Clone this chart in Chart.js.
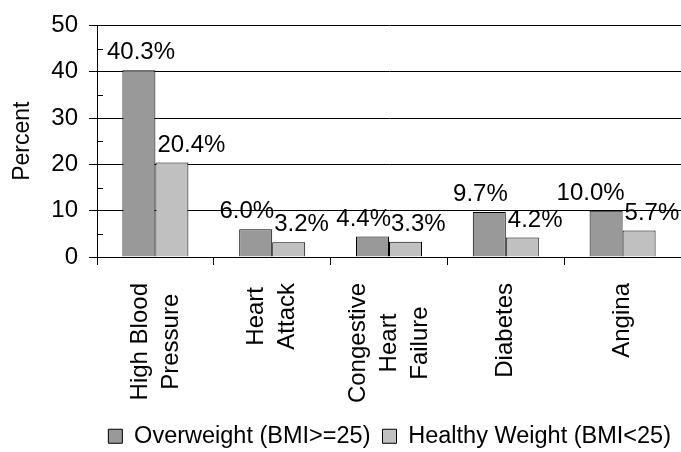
<!DOCTYPE html>
<html>
<head>
<meta charset="utf-8">
<script src="https://cdn.jsdelivr.net/npm/chart.js@4.4.0/dist/chart.umd.min.js"></script>
<style>
  html, body { margin: 0; padding: 0; background: #fff; }
</style>
</head>
<body>
<canvas id="myChart" width="681" height="452"></canvas>
<script>
const categories = [["High Blood", "Pressure"], ["Heart", "Attack"], ["Congestive", "Heart", "Failure"], ["Diabetes"], ["Angina"]]
const overweight = [40.3, 6.0, 4.4, 9.7, 10.0]
const healthy = [20.4, 3.2, 3.3, 4.2, 5.7]
const yTicks = [0, 10, 20, 30, 40, 50]
const minorTicks = [5, 15, 25, 35, 45]
const seriesNames = ["Overweight (BMI>=25)", "Healthy Weight (BMI<25)"]

const FONT = "Arial, 'Liberation Sans', sans-serif"
const ctx = document.getElementById('myChart').getContext('2d')

// category labels: rotated, lines centred on each other
const catLabels = {
    id: 'catLabels',
    afterDraw(chart) {
        const c = chart.ctx
        const xs = chart.scales.x
        const lh = 31
        c.save()
        c.font = `24px ${FONT}`
        c.fillStyle = '#000'
        c.textAlign = 'center'
        c.textBaseline = 'middle'
        categories.forEach((lines, i) => {
            const x = xs.getPixelForValue(i)
            const w = Math.max(...lines.map(l => c.measureText(l).width))
            c.save()
            c.translate(x - (lines.length - 1) * lh / 2, xs.top + 26)
            c.rotate(-Math.PI / 2)
            lines.forEach((l, j) => c.fillText(l, -w / 2, j * lh))
            c.restore()
        })
        c.restore()
    }
}

// small ticks inside the y axis
const minorTickMarks = {
    id: 'minorTickMarks',
    afterDraw(chart) {
        const c = chart.ctx
        const ys = chart.scales.y
        c.save()
        c.strokeStyle = '#000'
        c.lineWidth = 1
        c.beginPath()
        minorTicks.forEach(v => {
            const y = Math.round(ys.getPixelForValue(v)) + 0.5
            c.moveTo(ys.right, y)
            c.lineTo(ys.right + 6, y)
        })
        c.stroke()
        c.restore()
    }
}

// value labels over the bars
const valueLabels = {
    id: 'valueLabels',
    afterDatasetsDraw(chart) {
        const c = chart.ctx
        const minX = chart.chartArea.left + 10
        c.save()
        c.font = `24px ${FONT}`
        c.fillStyle = '#000'
        c.textBaseline = 'alphabetic'
        c.textAlign = 'left'
        chart.data.datasets.forEach((ds, di) => {
            chart.getDatasetMeta(di).data.forEach((bar, i) => {
                const text = ds.data[i].toFixed(1) + '%'
                const tw = c.measureText(text).width
                const half = bar.width / 2
                let x = di === 0 ? bar.x + half + 2 - tw : bar.x - half + 2
                if (x < minX) x = minX
                c.fillText(text, x, bar.y - 11)
            })
        })
        c.restore()
    }
}

const chart = new Chart(ctx, {
    type: 'bar',
    data: {
        labels: categories.map(l => l.join(' ')),
        datasets: [{
            label: seriesNames[0],
            data: overweight,
            backgroundColor: '#999999',
            borderColor: '#000',
            borderWidth: 1,
            categoryPercentage: 0.565,
            barPercentage: 1
        }, {
            label: seriesNames[1],
            data: healthy,
            backgroundColor: '#c0c0c0',
            borderColor: '#000',
            borderWidth: 1,
            categoryPercentage: 0.565,
            barPercentage: 1
        }]
    },
    options: {
        responsive: false,
        animation: false,
        layout: { padding: { top: 24, right: -2, left: 0, bottom: -6 } },
        plugins: {
            legend: {
                position: 'bottom',
                align: 'end',
                labels: {
                    font: { family: FONT, size: 23.5 },
                    color: '#000',
                    boxWidth: 14,
                    boxHeight: 14,
                    padding: 12
                }
            },
            tooltip: { enabled: false }
        },
        scales: {
            x: {
                grid: { offset: true, drawOnChartArea: false, color: '#000', tickLength: 8 },
                border: { color: '#000' },
                ticks: { display: false },
                afterFit: s => { s.height = 155.5 }
            },
            y: {
                min: 0,
                max: 50,
                afterBuildTicks: s => { s.ticks = yTicks.map(v => ({ value: v })) },
                ticks: { font: { family: FONT, size: 24 }, color: '#000', padding: 11 },
                grid: { color: '#000', tickLength: 8 },
                border: { color: '#000' },
                title: {
                    display: true,
                    text: 'Percent',
                    font: { family: FONT, size: 23 },
                    color: '#000',
                    padding: { top: 9, bottom: 0 }
                },
                afterFit: s => { s.width = 97 }
            }
        }
    },
    plugins: [catLabels, minorTickMarks, valueLabels]
})
</script>
</body>
</html>
